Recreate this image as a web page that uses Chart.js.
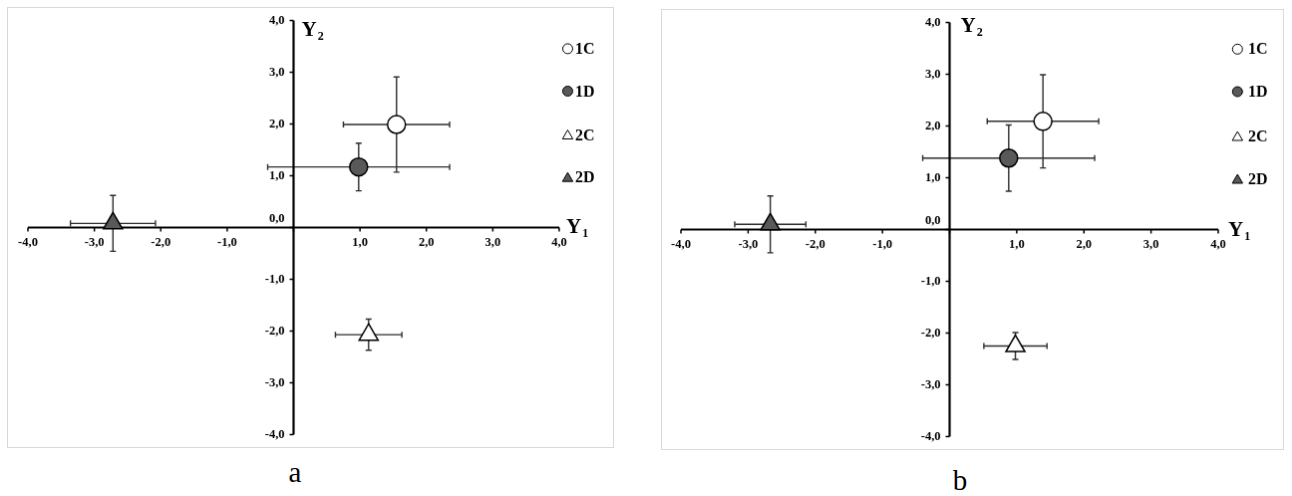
<!DOCTYPE html>
<html>
<head>
<meta charset="utf-8">
<script src="https://cdn.jsdelivr.net/npm/chart.js@4.4.1/dist/chart.umd.min.js"></script>
<style>
    body { margin: 0; background: #fff; width: 1292px; height: 496px; position: relative; overflow: hidden; }
    canvas { position: absolute; border: 1px solid #d9d9d9; }
    .caption { position: absolute; font-family: "Liberation Serif", "Times New Roman", serif; font-size: 29px; color: #000; transform: translate(-50%, -50%); }
</style>
</head>
<body>
<canvas id="chartA" width="607" height="441" style="left:7px; top:7px;"></canvas>
<canvas id="chartB" width="623" height="441" style="left:661px; top:9px;"></canvas>
<div class="caption" style="left:295px; top:472px;">a</div>
<div class="caption" style="left:960px; top:480px;">b</div>

<script>
// groups and data
const groups = ['1C', '1D', '2C', '2D'];
const tickValues = [-4, -3, -2, -1, 0, 1, 2, 3, 4];
const tickLabels = ['-4,0', '-3,0', '-2,0', '-1,0', '0,0', '1,0', '2,0', '3,0', '4,0'];

// panel a
const aX = [1.55, 0.98, 1.13, -2.72];
const aY = [1.99, 1.17, -2.07, 0.08];
const aXErr = [0.80, 1.37, 0.50, 0.64];
const aYErr = [0.92, 0.46, 0.30, 0.54];

// panel b
const bX = [1.39, 0.88, 0.98, -2.67];
const bY = [2.09, 1.38, -2.25, 0.10];
const bXErr = [0.83, 1.28, 0.47, 0.53];
const bYErr = [0.90, 0.64, 0.26, 0.55];

const serif = '"Liberation Serif", "Times New Roman", serif';

const markerStyles = {
    '1C': { pointStyle: 'circle', radius: 9, fill: '#ffffff' },
    '1D': { pointStyle: 'circle', radius: 9, fill: '#595959' },
    '2C': { pointStyle: 'triangle', radius: 11, fill: '#ffffff' },
    '2D': { pointStyle: 'triangle', radius: 11, fill: '#595959' }
};

// axes through the origin + error bars, drawn under the markers
const quadrantPlugin = {
    id: 'quadrant',
    beforeDatasetsDraw(chart, args, opts) {
        const ctx = chart.ctx;
        const area = chart.chartArea;
        const xs = chart.scales.x;
        const ys = chart.scales.y;
        const x0 = xs.getPixelForValue(0);
        const y0 = ys.getPixelForValue(0);

        ctx.save();
        // error bars
        ctx.strokeStyle = '#2e2e2e';
        ctx.lineWidth = 1.4;
        chart.data.datasets.forEach(ds => {
            ds.data.forEach(p => {
                const px = xs.getPixelForValue(p.x);
                const py = ys.getPixelForValue(p.y);
                const xl = xs.getPixelForValue(p.x - p.xErr);
                const xr = xs.getPixelForValue(p.x + p.xErr);
                const yt = ys.getPixelForValue(p.y + p.yErr);
                const yb = ys.getPixelForValue(p.y - p.yErr);
                ctx.beginPath();
                ctx.moveTo(xl, py); ctx.lineTo(xr, py);
                ctx.moveTo(xl, py - 3); ctx.lineTo(xl, py + 3);
                ctx.moveTo(xr, py - 3); ctx.lineTo(xr, py + 3);
                ctx.moveTo(px, yt); ctx.lineTo(px, yb);
                ctx.moveTo(px - 3, yt); ctx.lineTo(px + 3, yt);
                ctx.moveTo(px - 3, yb); ctx.lineTo(px + 3, yb);
                ctx.stroke();
            });
        });

        // axis lines
        ctx.strokeStyle = '#000';
        ctx.lineWidth = 2.2;
        ctx.beginPath();
        ctx.moveTo(area.left, y0); ctx.lineTo(area.right, y0);
        ctx.moveTo(x0, area.top); ctx.lineTo(x0, area.bottom);
        ctx.stroke();

        // tick marks
        ctx.lineWidth = 1.5;
        ctx.beginPath();
        tickValues.forEach(v => {
            const tx = xs.getPixelForValue(v);
            ctx.moveTo(tx, y0); ctx.lineTo(tx, y0 + 4);
            const ty = ys.getPixelForValue(v);
            ctx.moveTo(x0, ty); ctx.lineTo(x0 - 4, ty);
        });
        ctx.stroke();

        // tick labels
        ctx.fillStyle = '#000';
        ctx.font = 'bold 12.5px ' + serif;
        ctx.textAlign = 'center';
        ctx.textBaseline = 'middle';
        tickValues.forEach((v, i) => {
            if (v === 0) return;
            ctx.fillText(tickLabels[i], xs.getPixelForValue(v), y0 + 15);
        });
        ctx.textAlign = 'right';
        tickValues.forEach((v, i) => {
            const ty = ys.getPixelForValue(v) - (v === 0 ? 9 : 0);
            ctx.fillText(tickLabels[i], x0 - 9, ty);
        });

        // axis titles Y1 / Y2
        ctx.textAlign = 'left';
        ctx.textBaseline = 'alphabetic';
        const t = opts.titles;
        ctx.font = 'bold 21px ' + serif;
        ctx.fillText('Y', area.right + t.y1dx, y0 + t.y1dy);
        ctx.fillText('Y', x0 + t.y2dx, area.top + t.y2dy);
        const yw = ctx.measureText('Y').width;
        ctx.font = 'bold 12px ' + serif;
        ctx.fillText('1', area.right + t.y1dx + yw + 1, y0 + t.y1dy + 4);
        ctx.fillText('2', x0 + t.y2dx + yw + 1, area.top + t.y2dy + 4);
        ctx.restore();
    },
    afterDraw(chart, args, opts) {
        // legend on the right
        const ctx = chart.ctx;
        const area = chart.chartArea;
        const lg = opts.legend;
        ctx.save();
        chart.data.datasets.forEach((ds, i) => {
            const cy = area.top + lg.ys[i];
            const cx = area.right + lg.symbolDx;
            ctx.fillStyle = ds.backgroundColor;
            ctx.strokeStyle = '#000';
            ctx.lineWidth = 1;
            Chart.helpers.drawPoint(ctx, {
                pointStyle: ds.pointStyle,
                radius: ds.pointStyle === 'triangle' ? 6 : 5,
                rotation: 0,
                borderWidth: 1
            }, cx, cy + (ds.pointStyle === 'triangle' ? 1 : 0));
            ctx.fillStyle = '#000';
            ctx.font = 'bold 16px ' + serif;
            ctx.textAlign = 'left';
            ctx.textBaseline = 'middle';
            ctx.fillText(ds.label, area.right + lg.textDx, cy + 1);
        });
        ctx.restore();
    }
};

function buildDatasets(xv, yv, xe, ye) {
    return groups.map((g, i) => {
        const m = markerStyles[g];
        return {
            label: g,
            data: [{ x: xv[i], y: yv[i], xErr: xe[i], yErr: ye[i] }],
            pointStyle: m.pointStyle,
            pointRadius: m.radius,
            pointHoverRadius: m.radius,
            backgroundColor: m.fill,
            borderColor: '#000',
            borderWidth: 1.5
        };
    });
}

function makeChart(canvasId, datasets, padding, titles, legend) {
    const ctx = document.getElementById(canvasId);
    return new Chart(ctx.getContext('2d'), {
        type: 'scatter',
        data: { datasets: datasets },
        options: {
            responsive: false,
            animation: false,
            devicePixelRatio: 1,
            layout: { padding: padding },
            plugins: {
                legend: { display: false },
                tooltip: { enabled: false },
                quadrant: { titles: titles, legend: legend }
            },
            scales: {
                x: { type: 'linear', min: -4, max: 4, display: false },
                y: { type: 'linear', min: -4, max: 4, display: false }
            }
        },
        plugins: [quadrantPlugin]
    });
}

makeChart('chartA', buildDatasets(aX, aY, aXErr, aYErr),
    { left: 20, right: 54, top: 10, bottom: 11 },
    { y1dx: 7, y1dy: 5, y2dx: 8, y2dy: 15 },
    { symbolDx: 8.5, textDx: 16, ys: [28.4, 71, 115, 157.7] });

makeChart('chartB', buildDatasets(bX, bY, bXErr, bYErr),
    { left: 19, right: 65, top: 10.5, bottom: 11 },
    { y1dx: 10, y1dy: 6, y2dx: 11, y2dy: 9.5 },
    { symbolDx: 19.3, textDx: 30, ys: [26.8, 69.5, 114.5, 157.5] });
</script>
</body>
</html>
